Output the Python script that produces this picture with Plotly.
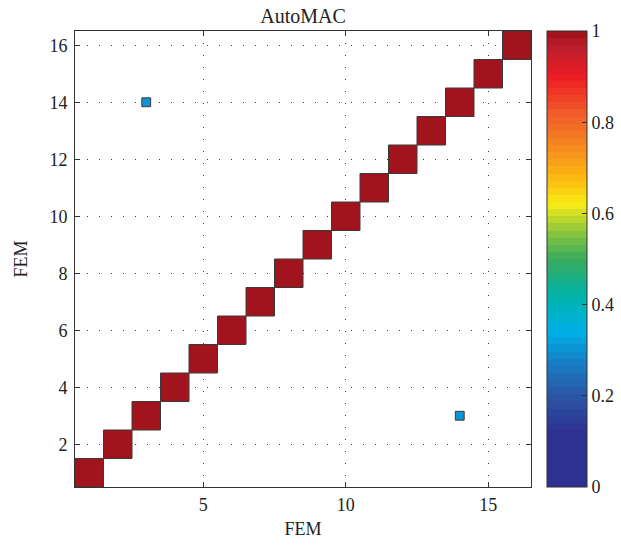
import plotly.graph_objects as go

# ---- data ----
modes = [1, 2, 3, 4, 5, 6, 7, 8, 9, 10, 11, 12, 13, 14, 15, 16]
diag_mac = [1.0, 1.0, 1.0, 1.0, 1.0, 1.0, 1.0, 1.0, 1.0, 1.0, 1.0, 1.0, 1.0, 1.0, 1.0, 1.0]
off_x = [3, 14]
off_y = [14, 3]
off_mac = [0.31, 0.31]
x_ticks = [5, 10, 15]
y_ticks = [2, 4, 6, 8, 10, 12, 14, 16]
cbar_ticks = [0, 0.2, 0.4, 0.6, 0.8, 1]
cbar_labels = ["0", "0.2", "0.4", "0.6", "0.8", "1"]

# ---- colormap (jet-like, 64 levels, as printed) ----
anchors = [
    (0.00, (46, 49, 146)),
    (0.12, (46, 49, 146)),
    (0.20, (43, 86, 165)),
    (0.28, (20, 130, 200)),
    (0.34, (0, 176, 232)),
    (0.42, (0, 179, 168)),
    (0.50, (58, 171, 91)),
    (0.56, (140, 198, 63)),
    (0.62, (248, 236, 22)),
    (0.67, (252, 192, 16)),
    (0.73, (247, 148, 29)),
    (0.82, (241, 90, 41)),
    (0.90, (237, 28, 36)),
    (0.96, (190, 30, 45)),
    (1.00, (155, 18, 25)),
]


def interp(t):
    for (p0, c0), (p1, c1) in zip(anchors[:-1], anchors[1:]):
        if p0 <= t <= p1:
            f = 0 if p1 == p0 else (t - p0) / (p1 - p0)
            return tuple(round(a + (b - a) * f) for a, b in zip(c0, c1))
    return anchors[-1][1]


NLEV = 64
levels = []
for k in range(NLEV):
    c = interp((k + 0.5) / NLEV)
    levels.append("rgb(%d,%d,%d)" % c)
colorscale = []
for k in range(NLEV):
    colorscale.append([k / NLEV, levels[k]])
    colorscale.append([(k + 1) / NLEV, levels[k]])


def color_of(v):
    k = min(int(v * NLEV), NLEV - 1)
    return levels[k]


FONT = "Liberation Serif"
TXT = "#222"

# ---- figure ----
fig = go.Figure()
shapes = []
xs = list(modes) + off_x
ys = list(modes) + off_y
vs = list(diag_mac) + off_mac
for x, y, v in zip(xs, ys, vs):
    h = v / 2.0
    shapes.append(dict(type="rect", xref="x", yref="y",
                       x0=x - h, x1=x + h, y0=y - h, y1=y + h,
                       fillcolor=color_of(v),
                       line=dict(color="#3a3a3a", width=1), layer="above"))

# invisible trace for the colorbar
fig.add_trace(go.Scatter(
    x=xs, y=ys, mode="markers",
    marker=dict(size=0.1, opacity=0, color=vs, cmin=0, cmax=1,
                colorscale=colorscale, showscale=True,
                colorbar=dict(
                    x=1.035, xanchor="left", xpad=0, ypad=0,
                    y=0.5, yanchor="middle", len=1.0, lenmode="fraction",
                    thickness=40, thicknessmode="pixels",
                    outlinecolor="#333", outlinewidth=1,
                    tickvals=cbar_ticks, ticktext=cbar_labels,
                    ticks="inside", ticklen=5, tickcolor="#333",
                    tickfont=dict(family=FONT, size=18, color=TXT),
                )),
    hoverinfo="skip", showlegend=False))

axis_common = dict(
    showline=True, mirror="allticks", linecolor="#333", linewidth=1,
    ticks="inside", ticklen=5, tickcolor="#333",
    showgrid=True, gridcolor="#444", gridwidth=1, griddash="1px,11px",
    zeroline=False,
    tickfont=dict(family=FONT, size=18, color=TXT),
)

fig.update_layout(
    width=621, height=546,
    margin=dict(l=75, r=90, t=31, b=59, autoexpand=False),
    paper_bgcolor="white", plot_bgcolor="white",
    shapes=shapes,
    title=dict(text="AutoMAC", x=0.5, xref="paper", xanchor="center",
               y=1, yref="paper", yanchor="bottom", pad=dict(b=8),
               font=dict(family=FONT, size=20, color=TXT)),
    xaxis=dict(range=[0.5, 16.5], tickvals=x_ticks, ticklabelstandoff=1,
               title=dict(text="FEM", standoff=8,
                          font=dict(family=FONT, size=18, color=TXT)),
               **axis_common),
    yaxis=dict(range=[0.5, 16.5], tickvals=y_ticks, ticklabelstandoff=3,
               title=dict(text="FEM", standoff=17,
                          font=dict(family=FONT, size=18, color=TXT)),
               **axis_common),
)

fig.write_html("out.html")
